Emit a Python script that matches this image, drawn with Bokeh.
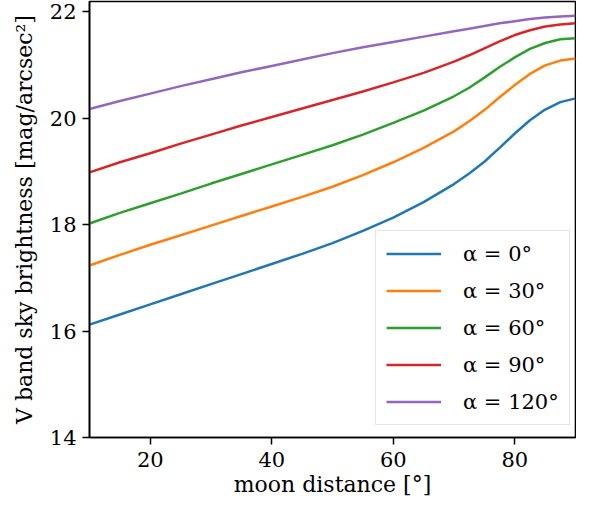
from bokeh.plotting import figure
from bokeh.models import Range1d, FixedTicker, Legend, LegendItem
from bokeh.embed import file_html
from bokeh.resources import INLINE

# moon distance [deg]
moon_distance = [10, 15, 20, 25, 30, 35, 40, 45, 50, 55, 60, 65, 70, 72.5, 75, 77.5,
                 80, 82.5, 85, 87.5, 90]

# V band sky brightness [mag/arcsec^2] for each phase angle alpha
alpha_0 = [16.12, 16.31, 16.50, 16.69, 16.88, 17.07, 17.26, 17.45, 17.65, 17.88, 18.13,
           18.42, 18.76, 18.96, 19.18, 19.44, 19.71, 19.96, 20.16, 20.30, 20.37]
alpha_30 = [17.23, 17.43, 17.62, 17.80, 17.98, 18.16, 18.34, 18.52, 18.71, 18.93, 19.17,
            19.44, 19.75, 19.94, 20.15, 20.39, 20.62, 20.83, 20.99, 21.08, 21.12]
alpha_60 = [18.02, 18.22, 18.40, 18.58, 18.77, 18.95, 19.13, 19.31, 19.49, 19.69, 19.91,
            20.14, 20.41, 20.57, 20.76, 20.96, 21.14, 21.30, 21.41, 21.48, 21.50]
alpha_90 = [18.98, 19.17, 19.34, 19.52, 19.69, 19.86, 20.02, 20.18, 20.34, 20.50, 20.67,
            20.85, 21.06, 21.18, 21.31, 21.44, 21.56, 21.65, 21.72, 21.76, 21.78]
alpha_120 = [20.17, 20.32, 20.46, 20.60, 20.73, 20.86, 20.98, 21.10, 21.22, 21.33, 21.43,
             21.53, 21.63, 21.68, 21.73, 21.78, 21.82, 21.86, 21.89, 21.91, 21.92]

series = [alpha_0, alpha_30, alpha_60, alpha_90, alpha_120]
labels = ["α = 0°", "α = 30°", "α = 60°", "α = 90°", "α = 120°"]
colors = ["#1f77b4", "#ff7f0e", "#2ca02c", "#d62728", "#9467bd"]

x_ticks = [20, 40, 60, 80]
y_ticks = [14, 16, 18, 20, 22]

FONT = "DejaVu Serif"

p = figure(width=576, height=501, output_backend="svg", toolbar_location=None,
           x_range=Range1d(10, 90), y_range=Range1d(14, 22.19),
           min_border_left=89, min_border_right=1, min_border_top=1, min_border_bottom=64)

p.background_fill_color = "white"
p.border_fill_color = "white"
p.grid.visible = False
p.outline_line_color = "black"
p.outline_line_width = 1.6
p.outline_line_alpha = 1.0

for ax in (p.xaxis[0], p.yaxis[0]):
    ax.axis_line_width = 1.6
    ax.axis_line_color = "black"
    ax.major_tick_line_width = 1.5
    ax.major_tick_line_color = "black"
    ax.major_tick_out = 7
    ax.major_tick_in = 0
    ax.minor_tick_line_color = None
    ax.major_label_text_font = FONT
    ax.major_label_text_font_size = "21px"
    ax.major_label_text_color = "black"
    ax.axis_label_text_font = FONT
    ax.axis_label_text_font_size = "22px"
    ax.axis_label_text_font_style = "normal"
    ax.axis_label_text_color = "black"

p.xaxis.ticker = FixedTicker(ticks=x_ticks)
p.yaxis.ticker = FixedTicker(ticks=y_ticks)
p.xaxis.major_label_standoff = 7
p.yaxis.major_label_standoff = 6
p.xaxis.axis_label_standoff = 2
p.yaxis.axis_label_standoff = 10
p.xaxis.axis_label = "moon distance [°]"
p.yaxis.axis_label = "V band sky brightness [mag/arcsec²]"

items = []
for ys, lab, col in zip(series, labels, colors):
    r = p.line(moon_distance, ys, line_color=col, line_width=2.5)
    items.append(LegendItem(label=lab, renderers=[r]))

legend = Legend(items=items, location=(286, 12))
legend.label_text_font = FONT
legend.label_text_font_size = "21px"
legend.label_text_color = "black"
legend.glyph_width = 55
legend.glyph_height = 25
legend.label_height = 25
legend.label_standoff = 22
legend.spacing = 12
legend.padding = 10
legend.margin = 0
legend.border_line_color = "#cccccc"
legend.border_line_width = 1.5
legend.background_fill_color = "white"
legend.background_fill_alpha = 0.8
p.add_layout(legend)

open("out.html", "w").write(file_html(p, INLINE))
